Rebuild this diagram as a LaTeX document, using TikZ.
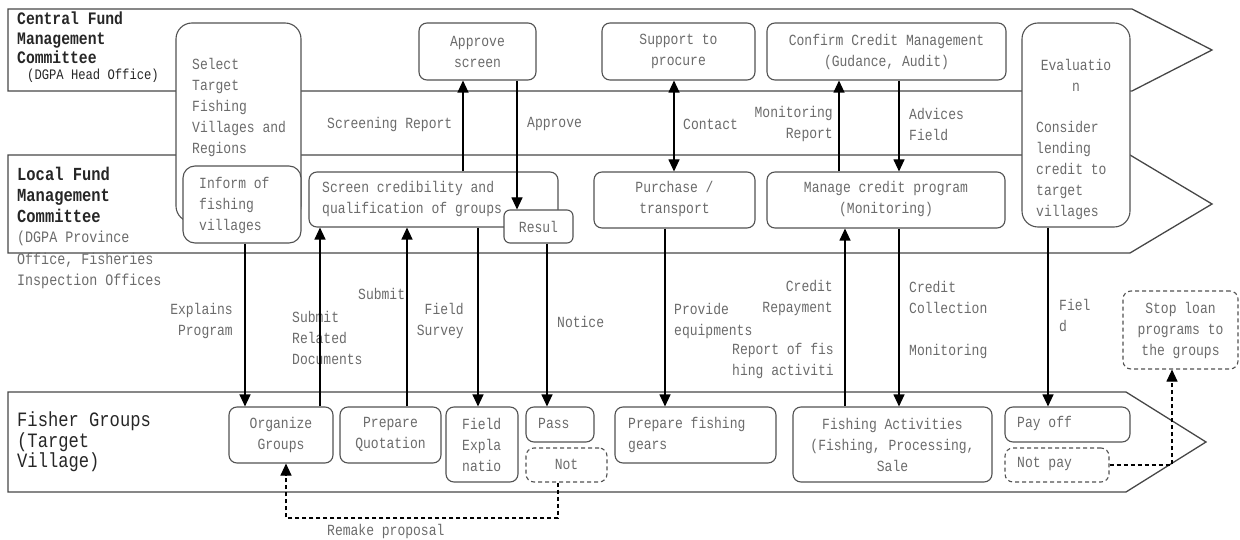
\documentclass[tikz,border=0pt]{standalone}
\usepackage{fontspec}
\setmainfont{Liberation Mono}[FakeStretch=0.84]
\usetikzlibrary{arrows.meta}
\begin{document}
\begin{tikzpicture}[x=1pt,y=-1pt,
  band/.style={draw=black!72, line width=1.3pt},
  box/.style={draw=black!68, line width=1.1pt, fill=white, rounded corners=8pt, inner sep=0pt},
  dbox/.style={box, dash pattern=on 4pt off 3pt},
  txt/.style={text=black!58, font=\fontsize{15.5}{21}\selectfont, inner sep=0pt},
  lane/.style={text=black!85, font=\bfseries\fontsize{17.5}{19.5}\selectfont, inner sep=0pt, align=left, anchor=west},
  arr/.style={draw=black, line width=1.1pt, -{Triangle[length=12pt,width=11pt]}},
  darr/.style={arr, dash pattern=on 4pt off 3pt},
]
\useasboundingbox (0,0) rectangle (1240,540);
% lanes
\draw[band] (8,9) -- (1132,9) -- (1212,50) -- (1132,91) -- (8,91) -- cycle;
\draw[band] (8,155) -- (1130,155) -- (1212,204) -- (1130,253) -- (8,253) -- cycle;
\draw[band] (8,392) -- (1126,392) -- (1206,442) -- (1126,492) -- (8,492) -- cycle;
% lane labels
\node[lane] (l1) at (17,38) {Central Fund\\Management\\Committee};
\node[txt, text=black!85, anchor=west, font=\fontsize{14.5}{20}\selectfont] (l1b) at (27,75.5) {(DGPA Head Office)};
\node[lane, font=\bfseries\fontsize{18.4}{21}\selectfont] (l2) at (17,195) {Local Fund\\Management\\Committee};
\node[txt, align=left, anchor=west, font=\fontsize{15.9}{21.5}\selectfont] (l2b) at (17,260) {(DGPA Province\\Office, Fisheries\\Inspection Offices};
\node[lane, font=\fontsize{20.4}{20.5}\selectfont] (l3) at (17,442) {Fisher Groups\\(Target\\Village)};
% central boxes
\node[box, rounded corners=16pt, minimum width=125pt, minimum height=199pt] (sel) at (238.5,122.5) {};
\node[txt, align=left, anchor=west] (tsel) at (192,107) {Select\\Target\\Fishing\\Villages and\\Regions};
\node[box, rounded corners=12pt, minimum width=118pt, minimum height=77pt] (inf) at (242,204.5) {};
\node[txt, align=left, anchor=west] (tinf) at (199,205) {Inform of\\fishing\\villages};
\node[box, minimum width=117pt, minimum height=57pt] (apv) at (477.5,51.5) {};
\node[txt, align=center] (tapv) at (apv) {Approve\\screen};
\node[box, minimum width=153pt, minimum height=57pt] (sup) at (678.5,51.5) {};
\node[txt, align=center] (tsup) at (sup) {Support to\\procure};
\node[box, minimum width=239pt, minimum height=57pt] (cnf) at (886.5,51.5) {};
\node[txt, align=center] (tcnf) at (cnf) {Confirm Credit Management\\(Gudance, Audit)};
\node[box, rounded corners=16pt, minimum width=108pt, minimum height=204pt] (eva) at (1076,125) {};
\node[txt, align=center] (teva1) at (1076,75) {Evaluatio\\n};
\node[txt, align=left, anchor=west] (teva2) at (1036,170.5) {Consider\\lending\\credit to\\target\\villages};
% local boxes
\node[box, minimum width=249pt, minimum height=55pt] (scr) at (433.5,199.5) {};
\node[txt, align=left, anchor=west] (tscr) at (322,198.5) {Screen credibility and\\qualification of groups};
\node[box, rounded corners=6pt, minimum width=69pt, minimum height=33pt] (res) at (538.5,226.5) {};
\node[txt] (tres) at (res) {Resul};
\node[box, minimum width=161pt, minimum height=56pt] (pur) at (674.5,200) {};
\node[txt, align=center] (tpur) at (674.5,198.5) {Purchase /\\transport};
\node[box, minimum width=238pt, minimum height=56pt] (man) at (886,200) {};
\node[txt, align=center] (tman) at (886,198.5) {Manage credit program\\(Monitoring)};
% fisher boxes
\node[box, minimum width=104pt, minimum height=56pt] (org) at (281,435) {};
\node[txt, align=center] (torg) at (281,434.5) {Organize\\Groups};
\node[box, minimum width=101pt, minimum height=56pt] (prq) at (390.5,435) {};
\node[txt, align=center] (tprq) at (390.5,434.5) {Prepare\\Quotation};
\node[box, minimum width=72pt, minimum height=75pt] (fex) at (482,444.5) {};
\node[txt, align=left, anchor=west] (tfex) at (462,445) {Field\\Expla\\natio};
\node[box, minimum width=68pt, minimum height=35pt] (pas) at (560,424.5) {};
\node[txt, anchor=west] (tpas) at (538,423) {Pass};
\node[dbox, minimum width=81pt, minimum height=34pt] (nt) at (566.5,465) {};
\node[txt] (tnt) at (566.5,464) {Not};
\node[box, minimum width=161pt, minimum height=56pt] (pfg) at (695.5,435) {};
\node[txt, align=left, anchor=west] (tpfg) at (628,434.5) {Prepare fishing\\gears};
\node[box, minimum width=199pt, minimum height=75pt] (fac) at (892.5,444.5) {};
\node[txt, align=center] (tfac) at (892.5,445) {Fishing Activities\\(Fishing, Processing,\\Sale};
\node[box, minimum width=125pt, minimum height=35pt] (pay) at (1067.5,424.5) {};
\node[txt, anchor=west] (tpay) at (1017,423) {Pay off};
\node[dbox, minimum width=104pt, minimum height=34pt] (npy) at (1057,465) {};
\node[txt, anchor=west] (tnpy) at (1017,464) {Not pay};
\node[dbox, minimum width=115pt, minimum height=78pt] (stp) at (1180.5,330) {};
\node[txt, align=center] (tstp) at (stp) {Stop loan\\programs to\\the groups};
% connector labels
\node[txt, anchor=west] (c1) at (327,124) {Screening Report};
\node[txt, anchor=west] (c2) at (527,124) {Approve};
\node[txt, anchor=west] (c3) at (683,124) {Contact};
\node[txt, align=right, anchor=east] (c4) at (833,124) {Monitoring\\Report};
\node[txt, align=left, anchor=west] (c5) at (909,124) {Advices\\Field};
\node[txt, align=right, anchor=east] (c6) at (233,321) {Explains\\Program};
\node[txt, align=left, anchor=west] (c7) at (292,338) {Submit\\Related\\Documents};
\node[txt, anchor=west] (c8) at (358,294) {Submit};
\node[txt, align=right, anchor=east] (c9) at (464,321) {Field\\Survey};
\node[txt, anchor=west] (c10) at (557,322) {Notice};
\node[txt, align=left, anchor=west] (c11) at (674,321) {Provide\\equipments};
\node[txt, align=right, anchor=east] (c12) at (833,298) {Credit\\Repayment};
\node[txt, align=left, anchor=west] (c13) at (732,361) {Report of fis\\hing activiti};
\node[txt, align=left, anchor=west] (c14) at (909,319.5) {Credit\\Collection\\\\Monitoring};
\node[txt, align=left, anchor=west] (c15) at (1059,315) {Fiel\\d};
\node[txt, anchor=west] (c16) at (327,531) {Remake proposal};
% connectors
\draw[arr] (inf.south -| 245,0) -- (org.north -| 245,0);
\draw[arr] (org.north -| 320,0) -- (scr.south -| 320,0);
\draw[arr] (prq.north -| 407,0) -- (scr.south -| 407,0);
\draw[arr] (scr.north -| 463,0) -- (apv.south -| 463,0);
\draw[arr] (apv.south -| 517,0) -- (res.north -| 517,0);
\draw[arr] (scr.south -| 478,0) -- (fex.north -| 478,0);
\draw[arr] (res.south -| 547,0) -- (pas.north -| 547,0);
\draw[draw=black, line width=1.1pt, {Triangle[length=12pt,width=11pt]}-{Triangle[length=12pt,width=11pt]}] (sup.south -| 674,0) -- (pur.north -| 674,0);
\draw[arr] (pur.south -| 665,0) -- (pfg.north -| 665,0);
\draw[arr] (man.north -| 839,0) -- (cnf.south -| 839,0);
\draw[arr] (cnf.south -| 899,0) -- (man.north -| 899,0);
\draw[arr] (fac.north -| 845,0) -- (man.south -| 845,0);
\draw[arr] (man.south -| 899,0) -- (fac.north -| 899,0);
\draw[arr] (eva.south -| 1048,0) -- (pay.north -| 1048,0);
\draw[darr] (npy.east) -| (stp.south -| 1172,0);
\coordinate (rm) at (558,518);
\draw[darr] (nt.south -| 558,0) -- (rm) -| (org.south -| 286,0);
\end{tikzpicture}
\end{document}
